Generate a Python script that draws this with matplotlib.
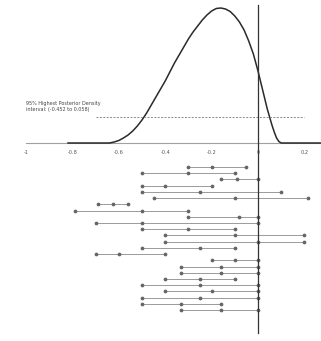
import numpy as np
import matplotlib
matplotlib.use("Agg")
import matplotlib.pyplot as plt

# posterior density curve
dens_x = [-0.82, -0.64, -0.62, -0.60, -0.58, -0.56, -0.54, -0.52, -0.50, -0.48, -0.46,
          -0.44, -0.42, -0.40, -0.38, -0.36, -0.34, -0.32, -0.30, -0.28, -0.26, -0.24,
          -0.22, -0.20, -0.18, -0.16, -0.14, -0.12, -0.10, -0.08, -0.06, -0.04, -0.02,
          0.00, 0.02, 0.04, 0.06, 0.07, 0.08, 0.09, 0.10, 0.27]
dens_y = [0.0, 0.0, 0.02, 0.05, 0.10, 0.16, 0.24, 0.34, 0.46, 0.60, 0.76,
          0.92, 1.08, 1.24, 1.42, 1.60, 1.76, 1.92, 2.08, 2.22, 2.34, 2.46,
          2.56, 2.64, 2.69, 2.70, 2.68, 2.63, 2.54, 2.42, 2.26, 2.04, 1.78,
          1.44, 1.06, 0.68, 0.36, 0.22, 0.10, 0.03, 0.0, 0.0]

hpd_level = 0.52
hpd_span = [-0.70, 0.20]
hpd_text = "95% Highest Posterior Density\ninterval: (-0.452 to 0.058)"

tick_vals = [-1, -0.8, -0.6, -0.4, -0.2, 0, 0.2]
tick_labels = ["-1", "-0.8", "-0.6", "-0.4", "-0.2", "0", "0.2"]

# per-study intervals: lower, estimate, upper
lower = [-0.30, -0.50, -0.16, -0.50, -0.50, -0.45, -0.69, -0.79, -0.30, -0.70, -0.50, -0.40,
         -0.40, -0.50, -0.70, -0.20, -0.33, -0.33, -0.40, -0.50, -0.40, -0.50, -0.50, -0.33]
mid = [-0.20, -0.30, -0.09, -0.40, -0.25, -0.10, -0.625, -0.50, -0.08, -0.50, -0.30, -0.10,
       0.00, -0.25, -0.60, -0.10, -0.16, -0.16, -0.25, -0.25, -0.20, -0.25, -0.33, -0.16]
upper = [-0.05, -0.10, 0.00, -0.20, 0.10, 0.215, -0.56, -0.30, 0.00, 0.00, -0.10, 0.20,
         0.20, -0.10, -0.40, 0.00, 0.00, 0.00, -0.10, 0.00, 0.00, 0.00, -0.16, 0.00]

fig = plt.figure(figsize=(3.21, 3.41), dpi=100)
ax = fig.add_axes([0, 0, 1, 1])
ax.set_xlim(-258 / 232, 63 / 232)
ax.set_ylim(-198 / 50, 143 / 50)
ax.axis("off")

# axis line and labels
ax.plot([-1, 0.27], [0, 0], color="#a0a0a0", lw=0.8)
for v, lab in zip(tick_vals, tick_labels):
    ax.text(v, -0.18, lab, ha="center", va="center", fontsize=3.6, color="#555555")

# density
ax.plot(dens_x, dens_y, color="#2a2a2a", lw=1.1, solid_capstyle="round",
        solid_joinstyle="round")
ax.plot(hpd_span, [hpd_level, hpd_level], color="#888888", lw=0.7, ls=(0, (2, 1.5)))
ax.text(-1.0, 0.62, hpd_text, fontsize=3.5, color="#444444", ha="left", va="bottom",
        linespacing=1.3)

# study rows
row_top = -24 / 50
row_step = 6.22 / 50
for i, (lo, m, hi) in enumerate(zip(lower, mid, upper)):
    y = row_top - i * row_step
    ax.plot([lo, hi], [y, y], color="#9a9a9a", lw=0.7)
    ax.plot([lo, m, hi], [y, y, y], ls="none", marker="o", ms=1.7,
            mfc="#666666", mec="#666666")

# zero line
ax.axvline(0, ymin=8 / 341, ymax=1 - 5 / 341, color="#333333", lw=0.9)

fig.savefig("out.png", dpi=100)
